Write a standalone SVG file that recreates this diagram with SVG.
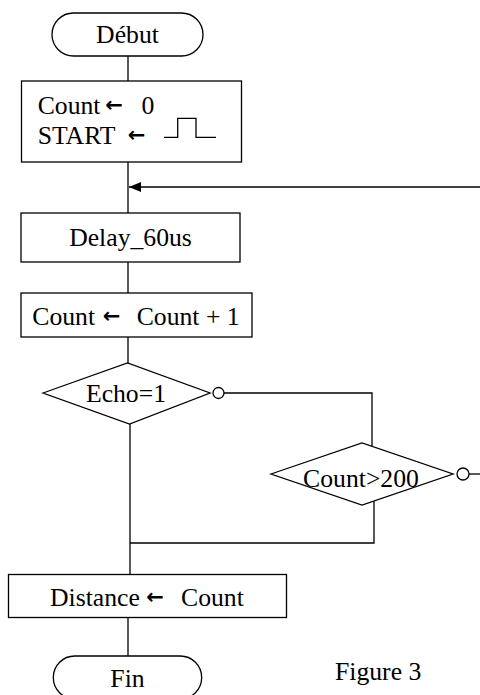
<svg xmlns="http://www.w3.org/2000/svg" width="480" height="695" viewBox="0 0 480 695">
  <style>
    .shape { fill: #ffffff; stroke: #000000; stroke-width: 1.3; }
    .wire { fill: none; stroke: #000000; stroke-width: 1.3; }
    .lbl { font-family: 'Liberation Serif', 'Times New Roman', serif; font-size: 25.7px; fill: #000000; }
    .arr { font-family: 'DejaVu Sans', sans-serif; font-size: 21px; font-weight: bold; fill: #000000; }
    .ring { fill: #ffffff; stroke: #000000; stroke-width: 1.3; }
  </style>
  <defs>
    <marker id="head" markerUnits="userSpaceOnUse" markerWidth="13" markerHeight="11" refX="12" refY="5" orient="auto">
      <path d="M0,0 L12,5 L0,10 Z" fill="#000000"/>
    </marker>
  </defs>

  <rect width="480" height="695" fill="#ffffff"/>

  <!-- connectors -->
  <g id="connectors">
    <path class="wire" d="M128,56 V81"/>
    <path class="wire" d="M128,162 V213"/>
    <path class="wire" d="M480,187 H129" stroke-width="1.8" marker-end="url(#head)"/>
    <path class="wire" d="M128,262 V293"/>
    <path class="wire" d="M128,337 V363"/>
    <path class="wire" d="M224,393 H372 V447"/>
    <path class="wire" d="M469,474 H480"/>
    <path class="wire" d="M374,501 V543 H130"/>
    <path class="wire" d="M130,424 V574.5"/>
    <path class="wire" d="M128,617.5 V656"/>
  </g>

  <!-- start terminator -->
  <g id="debut">
    <rect class="shape" x="52" y="13" width="151" height="43" rx="21.5"/>
    <text class="lbl" x="127.5" y="43" text-anchor="middle">Début</text>
  </g>

  <!-- initialisation -->
  <g id="init">
    <rect class="shape" x="21.5" y="81" width="220" height="81"/>
    <text class="lbl" x="37.7" y="114">Count</text>
    <text class="arr" x="114" y="112" text-anchor="middle">←</text>
    <text class="lbl" x="141.5" y="114">0</text>
    <text class="lbl" x="37.7" y="144">START</text>
    <text class="arr" x="136.5" y="142" text-anchor="middle">←</text>
    <path class="wire" d="M164,137.3 H177.7 V118.3 H196 V137.3 H216"/>
  </g>

  <!-- delay -->
  <g id="delay">
    <rect class="shape" x="21" y="213" width="219" height="49"/>
    <text class="lbl" x="130.5" y="246" text-anchor="middle">Delay_60us</text>
  </g>

  <!-- increment -->
  <g id="increment">
    <rect class="shape" x="21" y="293" width="231" height="44"/>
    <text class="lbl" x="32.3" y="325">Count</text>
    <text class="arr" x="111.5" y="323" text-anchor="middle">←</text>
    <text class="lbl" x="136.7" y="325">Count + 1</text>
  </g>

  <!-- echo test -->
  <g id="echo">
    <polygon class="shape" points="43,393 127.5,363 210,393 129.5,424"/>
    <text class="lbl" x="126" y="401.7" text-anchor="middle">Echo=1</text>
    <circle class="ring" cx="218.5" cy="393" r="5.5"/>
  </g>

  <!-- timeout test -->
  <g id="timeout">
    <polygon class="shape" points="271,474 362,443 453,474 362,505"/>
    <text class="lbl" x="361" y="487" text-anchor="middle">Count&gt;200</text>
    <circle class="ring" cx="463" cy="474" r="6"/>
  </g>

  <!-- result -->
  <g id="distance">
    <rect class="shape" x="8.5" y="574.5" width="278" height="43"/>
    <text class="lbl" x="50" y="606">Distance</text>
    <text class="arr" x="155" y="604" text-anchor="middle">←</text>
    <text class="lbl" x="181" y="606">Count</text>
  </g>

  <!-- end terminator -->
  <g id="fin">
    <rect class="shape" x="53.3" y="656" width="148.4" height="43" rx="21.5"/>
    <text class="lbl" x="127.5" y="686.7" text-anchor="middle">Fin</text>
  </g>

  <text class="lbl" x="335" y="680">Figure 3</text>
</svg>
